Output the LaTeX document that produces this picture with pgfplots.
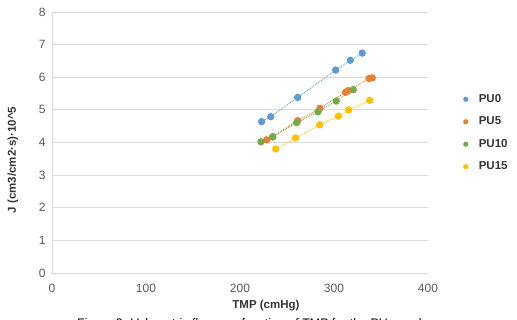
\documentclass[border=0pt]{standalone}
\usepackage{pgfplots}
\pgfplotsset{compat=1.18}
\usepackage{fontspec}
\setmainfont{Liberation Sans}
\definecolor{cA}{HTML}{5B9BD5}
\definecolor{cB}{HTML}{ED7D31}
\definecolor{cC}{HTML}{70AD47}
\definecolor{cD}{HTML}{FFC000}
\definecolor{gridc}{HTML}{D9D9D9}
\definecolor{tickc}{HTML}{595959}
\begin{document}
\begin{tikzpicture}[x=1pt,y=1pt]
\useasboundingbox (0,0) rectangle (517,320);
\begin{axis}[
  at={(52pt,47pt)}, anchor=south west,
  scale only axis, width=376pt, height=261pt,
  xmin=0, xmax=400, ymin=0, ymax=8,
  xtick={0,100,...,400}, ytick={0,1,...,8},
  ymajorgrids, grid style={gridc, line width=0.8pt},
  axis x line*=bottom, axis y line*=left,
  axis line style={gridc, line width=0.8pt, -},
  major tick length=0pt,
  ytick style={draw=none}, xtick style={draw=none},
  tick label style={font=\fontsize{12}{14}\selectfont, text=tickc},
  /pgf/number format/assume math mode=true,
  xticklabel style={yshift=-8pt},
  yticklabel style={xshift=-3pt},
  xlabel={\bfseries TMP (cmHg)},
  ylabel={\bfseries J (cm3/cm2·s)·10\^{}5},
  label style={font=\fontsize{11.5}{13}\selectfont, text=tickc!60!black},
  xlabel style={at={(axis description cs:0.569,0)}, anchor=center, yshift=-33pt},
  ylabel style={at={(axis description cs:-0.104,0.433)}, anchor=center, rotate=0},
  legend style={at={(1.084,0.7)}, anchor=north west, draw=none, fill=none,
    font=\bfseries\fontsize{11.5}{13}\selectfont, row sep=9pt, text=tickc!60!black},
  legend cell align=left,
  legend image code/.code={\path[draw=none] (0,0) -- (14pt,0); \fill[#1, solid] (3pt,0) circle (2.1pt);},
  clip=false,
]
\addplot[cA, densely dotted, line width=0.9pt, mark=*, mark size=3.2pt, mark options={solid, draw=cA, fill=cA}] coordinates {
(223,4.64) (232.7,4.79) (261.4,5.38) (301.8,6.22) (317.3,6.52) (330,6.74)};
\addlegendentry{PU0}
\addplot[cB, densely dotted, line width=0.9pt, mark=*, mark size=3.2pt, mark options={solid, draw=cB, fill=cB}] coordinates {
(228.4,4.08) (234.8,4.18) (261.4,4.67) (285.1,5.05) (312.4,5.54) (315.2,5.59) (337.2,5.96) (340.7,5.98)};
\addlegendentry{PU5}
\addplot[cC, densely dotted, line width=0.9pt, mark=*, mark size=3.2pt, mark options={solid, draw=cC, fill=cC}] coordinates {
(222.3,4.02) (234.8,4.17) (260.3,4.61) (283,4.94) (302.4,5.27) (320.5,5.62)};
\addlegendentry{PU10}
\addplot[cD, densely dotted, line width=0.9pt, mark=*, mark size=3.2pt, mark options={solid, draw=cD, fill=cD}] coordinates {
(238,3.80) (259.2,4.14) (284.8,4.54) (304.6,4.81) (315.6,5.00) (338,5.29)};
\addlegendentry{PU15}
\end{axis}
\node[anchor=base, font=\fontsize{12.4}{14}\selectfont, inner sep=0pt] at (267,-7.6) {Figure 3. Volumetric flux as a function of TMP for the PU membranes};
\end{tikzpicture}
\end{document}
